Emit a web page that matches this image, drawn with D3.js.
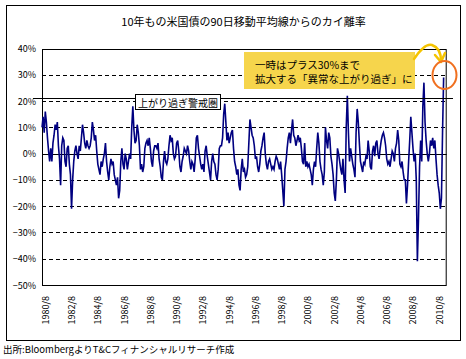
<!DOCTYPE html>
<html><head><meta charset="utf-8">
<script src="https://cdn.jsdelivr.net/npm/d3@7"></script>
<style>
body{margin:0;background:#fff}
svg{display:block}
text{font-family:"Noto Sans CJK JP","Noto Sans",sans-serif;fill:#000}
</style>
</head><body>
<svg id="c" width="466" height="359"></svg>
<script>
const title = "10年もの米国債の90日移動平均線からのカイ離率";
const source = "出所:BloombergよりT&Cフィナンシャルリサーチ作成";
const yTicks = [40, 30, 20, 10, 0, -10, -20, -30, -40, -50];
const xTickLabels = ["1980/8","1982/8","1984/8","1986/8","1988/8","1990/8","1992/8","1994/8","1996/8","1998/8","2000/8","2002/8","2004/8","2006/8","2008/8","2010/8"];
const warningLevel = 20;
const warningLabel = "上がり過ぎ警戒圏";
const calloutLines = ["一時はプラス30%まで", "拡大する「異常な上がり過ぎ」に"];
const startYear = 1980, startMonth = 5;
// monthly deviation (%) from the 90-day moving average, May 1980 - Dec 2010
const deviation = [
  10, 14, 8, 16, 12, 6, 1, -3,                 // 1980 (May-Dec)
  2, -3, 4, 7, 11, 9, 12, 3, -2, -12, 3, 6,     // 1981
  5, -3, -5, 2, 3, -4, -8, -21, -10, -3, 1, 3,  // 1982
  0, -2, 3, 1, 6, 11, 8, 4, 2, 5, 3, 2,         // 1983
  3, 6, 12, 9, 5, 7, 1, -4, -6, -8, -3, -5,     // 1984
  -2, 0, 4, -3, -7, -10, -5, -2, -4, -3, -8, -10, // 1985
  -12, -9, -17, -14, -3, 2, -4, -6, 0, -2, -6, -3, // 1986
  0, -2, 10, 18, 9, 4, 5, 11, 8, 3, -6, -4,     // 1987
  -7, -5, 2, 4, 5, 3, 6, 2, -3, -5, 1, 3,       // 1988
  3, 2, 4, -2, -5, -9, -10, -3, 1, -3, -4, -2,  // 1989
  3, 7, 5, 6, 0, -2, -1, 4, 5, 1, -5, -7,       // 1990
  -3, -1, 2, 1, 0, 3, 1, -3, -6, -3, -4, -7,    // 1991
  -2, 6, 7, 2, -1, -4, -6, -4, -7, 1, 3, -1,    // 1992
  -4, -7, -10, -3, 0, -3, -4, -8, -10, -6, 2, 3, // 1993
  3, 6, 15, 19, 12, 5, 8, 4, 6, 8, 9, 2,        // 1994
  -3, -5, -8, -6, -12, -14, -6, -2, -7, -6, -9, -8, // 1995
  -5, 4, 13, 10, 7, 6, 3, -2, -1, -5, -7, -4,   // 1996
  1, 3, 6, 8, 0, -4, -6, -3, -2, -4, -6, -5,    // 1997
  -6, -3, -1, -2, -4, -6, -3, -8, -14, -20, -6, -3, // 1998
  2, 6, 8, 4, 9, 13, 7, 6, 3, 5, 7, 5,          // 1999
  6, 2, -3, -4, 4, -5, -3, -5, -4, -6, -8, -12, // 2000
  -6, -3, -5, 2, 8, 4, -3, -6, -8, -12, -7, 10, // 2001
  5, 2, 8, 6, -1, -4, -8, -15, -18, -10, 2, 0,  // 2002
  -3, -6, -8, -2, -10, -15, 10, 22, 8, -3, 2, -1, // 2003
  -4, -6, -9, 8, 17, 12, 4, -3, -5, -7, -3, -4, // 2004
  -1, -2, 5, 1, -5, -6, 1, 3, -1, 4, 5, 0,      // 2005
  -2, 2, 5, 7, 8, 6, 3, -2, -4, -3, -5, -2,     // 2006
  1, 0, -3, 2, 4, 9, 5, -4, -5, -3, -7, -10,    // 2007
  -10, -19, -12, -3, 5, 14, 8, 2, -3, 0, -10, -41, // 2008
  -25, -5, 5, -3, 18, 27, 12, 5, 0, -3, 0, 5,   // 2009
  3, 6, 2, 5, -2, -8, -12, -15, -21, -17, 8, 29 // 2010
];

const svg = d3.select("#c");
const plot = {left: 42, right: 446.7, top: 48.5, bottom: 285};

const x = d3.scaleLinear().domain([1980.333, 2011.15]).range([plot.left, plot.right]);
const y = d3.scaleLinear().domain([-50, 40]).range([plot.bottom, plot.top]);

// outer frame
svg.append("rect").attr("x", 6.5).attr("y", 5.5).attr("width", 454).attr("height", 335)
  .attr("fill", "#fff").attr("stroke", "#000").attr("stroke-width", 1);

// title
svg.append("text").attr("x", 243.5).attr("y", 21).attr("text-anchor", "middle")
  .attr("dominant-baseline", "central").attr("font-size", 11).text(title);

// gridlines
yTicks.filter(v => v !== 40 && v !== -50).forEach(v => {
  svg.append("line").attr("x1", plot.left).attr("x2", plot.right)
    .attr("y1", Math.round(y(v)) + 0.5).attr("y2", Math.round(y(v)) + 0.5)
    .attr("stroke", "#000").attr("stroke-width", 1)
    .attr("stroke-dasharray", v === 0 ? null : "4,3");
});

// plot border
svg.append("rect").attr("x", plot.left + 0.5).attr("y", Math.round(plot.top) + 0.5)
  .attr("width", plot.right - plot.left - 1).attr("height", plot.bottom - Math.round(plot.top))
  .attr("fill", "none").attr("stroke", "#000").attr("stroke-width", 1);

// y labels
svg.append("g").selectAll("text").data(yTicks).join("text")
  .attr("x", 36).attr("y", d => y(d)).attr("text-anchor", "end")
  .attr("dominant-baseline", "central").attr("font-size", 9)
  .text(d => (d < 0 ? "−" + Math.abs(d) : d) + "%");

// x labels (rotated)
svg.append("g").selectAll("text").data(xTickLabels).join("text")
  .attr("transform", d => {
    const [yr, mo] = d.split("/").map(Number);
    return `translate(${x(yr + (mo - 1) / 12)},296) rotate(-90)`;
  })
  .attr("text-anchor", "end").attr("dominant-baseline", "central")
  .attr("font-size", 9).text(d => d);

// series
const pts = deviation.map((v, i) => ({t: startYear + (startMonth - 1 + i) / 12, v}));
svg.append("path").datum(pts)
  .attr("fill", "none").attr("stroke", "#000080").attr("stroke-width", 1.6)
  .attr("stroke-linejoin", "miter")
  .attr("d", d3.line().x(d => x(d.t)).y(d => y(d.v)));

// warning line
const wy = Math.round(y(warningLevel)) - 2.5;
svg.append("line").attr("x1", 33).attr("x2", 453).attr("y1", wy).attr("y2", wy)
  .attr("stroke", "#000").attr("stroke-width", 1);

// warning label box
svg.append("rect").attr("x", 135.5).attr("y", 94.5).attr("width", 85).attr("height", 15)
  .attr("fill", "#fff").attr("stroke", "#000").attr("stroke-width", 1);
svg.append("text").attr("x", 178).attr("y", 102).attr("text-anchor", "middle")
  .attr("dominant-baseline", "central").attr("font-size", 10).text(warningLabel);

// callout box
svg.append("rect").attr("x", 244).attr("y", 52).attr("width", 171).attr("height", 37)
  .attr("fill", "#f6d54c");
calloutLines.forEach((s, i) => {
  svg.append("text").attr("x", 255).attr("y", 64 + i * 14)
    .attr("dominant-baseline", "central").attr("font-size", 10.5).text(s);
});

// curved arrow
svg.append("path").attr("d", "M414,59 C420,50 426,43 432,45 C438,47 441,53 441,61")
  .attr("fill", "none").attr("stroke", "#f5c400").attr("stroke-width", 2.5).attr("stroke-linecap", "round");
svg.append("path").attr("d", "M435,55 L441,62 L445,53")
  .attr("fill", "none").attr("stroke", "#f5c400").attr("stroke-width", 2.5)
  .attr("stroke-linecap", "round").attr("stroke-linejoin", "round");

// highlight ellipse
svg.append("ellipse").attr("cx", 444.5).attr("cy", 75).attr("rx", 12).attr("ry", 14)
  .attr("fill", "none").attr("stroke", "#f07020").attr("stroke-width", 2);

// source
svg.append("text").attr("x", 3).attr("y", 349).attr("dominant-baseline", "central")
  .attr("font-size", 9.5).text(source);
</script>
</body></html>
